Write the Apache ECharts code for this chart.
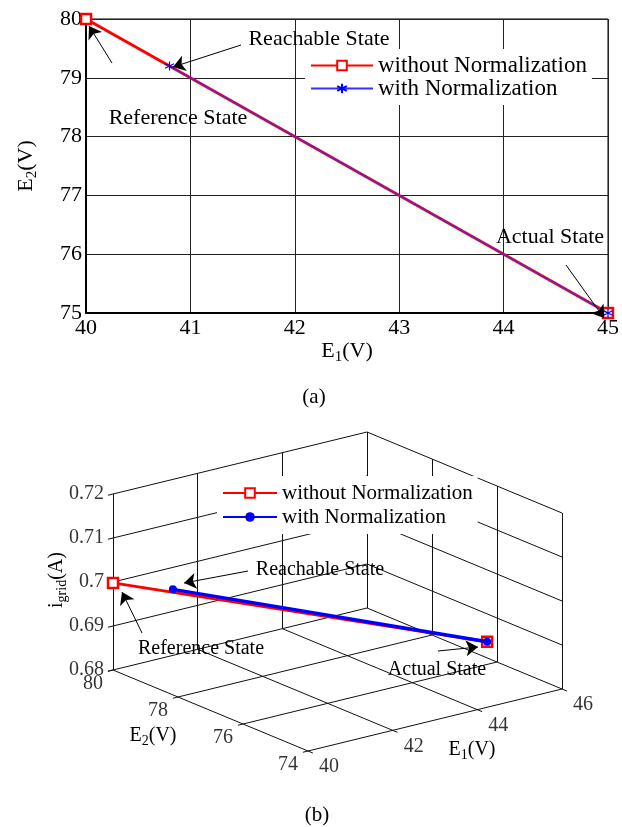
<!DOCTYPE html>
<html>
<head>
<meta charset="utf-8">
<script src="https://cdn.jsdelivr.net/npm/echarts@6/dist/echarts.min.js"></script>
<style>
  html, body { margin: 0; padding: 0; background: #fff; }
  #chart { width: 622px; height: 827px; }
</style>
</head>
<body>
<div id="chart"></div>
<script>
// (a) trajectory in the E1-E2 plane
const e1WithoutA = [40, 45];
const e2WithoutA = [80, 75];
const e1WithA = [40.8, 45];
const e2WithA = [79.2, 75];

// (b) trajectory in E1-E2-igrid space
const e1WithoutB = [40, 45];
const e2WithoutB = [80, 75];
const iWithoutB = [0.6998, 0.6900];
const e1WithB = [40.8, 45];
const e2WithB = [79.2, 75];
const iWithB = [0.6989, 0.6900];

const e1TicksB = [40, 42, 44, 46];
const e2TicksB = [74, 76, 78, 80];
const iTicksB = [0.68, 0.69, 0.70, 0.71, 0.72];

const FONT = '"Liberation Serif", "Times New Roman", serif';

// simple orthographic view of the 3d box, mapped onto a hidden full-page grid
const E1MIN = e1TicksB[0], E1MAX = e1TicksB[e1TicksB.length - 1];
const E2MIN = e2TicksB[0], E2MAX = e2TicksB[e2TicksB.length - 1];
const IMIN = iTicksB[0], IMAX = iTicksB[iTicksB.length - 1];
const ORIGIN = [113, 670];   // corner E1=40, E2=80, i=0.68
const VE1 = [254, -62];      // E1 40 -> 46
const VE2 = [195, 81];       // E2 80 -> 74
const VZ = [0, -176];        // i 0.68 -> 0.72

function proj(e1, e2, z) {
  const a = (e1 - E1MIN) / (E1MAX - E1MIN);
  const b = (E2MAX - e2) / (E2MAX - E2MIN);
  const c = (z - IMIN) / (IMAX - IMIN);
  return [ORIGIN[0] + a * VE1[0] + b * VE2[0] + c * VZ[0],
          ORIGIN[1] + a * VE1[1] + b * VE2[1] + c * VZ[1]];
}

// box edges and grid lines
const boxSegs = [];
function seg(p, q) { boxSegs.push({ coords: [proj(p[0], p[1], p[2]), proj(q[0], q[1], q[2])] }); }
seg([E1MIN, E2MAX, IMIN], [E1MIN, E2MAX, IMAX]);
seg([E1MAX, E2MAX, IMIN], [E1MAX, E2MAX, IMAX]);
seg([E1MAX, E2MIN, IMIN], [E1MAX, E2MIN, IMAX]);
seg([E1MIN, E2MAX, IMAX], [E1MAX, E2MAX, IMAX]);
seg([E1MAX, E2MAX, IMAX], [E1MAX, E2MIN, IMAX]);
seg([E1MIN, E2MAX, IMIN], [E1MIN, E2MIN, IMIN]);
seg([E1MIN, E2MIN, IMIN], [E1MAX, E2MIN, IMIN]);
seg([E1MIN, E2MAX, IMIN], [E1MAX, E2MAX, IMIN]);
seg([E1MAX, E2MAX, IMIN], [E1MAX, E2MIN, IMIN]);
e1TicksB.slice(1, -1).forEach(e1 => {
  seg([e1, E2MAX, IMIN], [e1, E2MIN, IMIN]);
  seg([e1, E2MAX, IMIN], [e1, E2MAX, IMAX]);
});
e2TicksB.slice(1, -1).forEach(e2 => {
  seg([E1MIN, e2, IMIN], [E1MAX, e2, IMIN]);
  seg([E1MAX, e2, IMIN], [E1MAX, e2, IMAX]);
});
iTicksB.slice(1, -1).forEach(z => {
  seg([E1MIN, E2MAX, z], [E1MAX, E2MAX, z]);
  seg([E1MAX, E2MAX, z], [E1MAX, E2MIN, z]);
});
// tick stubs
iTicksB.forEach(z => seg([E1MIN, E2MAX, z], [E1MIN - 0.12, E2MAX, z]));
e2TicksB.forEach(e2 => seg([E1MIN, e2, IMIN], [E1MIN - 0.12, e2, IMIN]));
e1TicksB.forEach(e1 => seg([e1, E2MIN, IMIN], [e1, E2MIN - 0.15, IMIN]));

function zip2(xs, ys) { return xs.map((x, k) => [x, ys[k]]); }
function zip3(xs, ys, zs) { return xs.map((x, k) => proj(x, ys[k], zs[k])); }

// annotation arrows, page pixels
const arrowsPx = [
  [[112, 63], [89, 26]],
  [[241, 45], [173, 67]],
  [[566, 265], [604, 318]],
  [[248, 571], [184, 583]],
  [[142, 633], [122, 592]],
  [[438, 651], [478, 647]]
];

const subRich = function(fs, pad) {
  return { sub: { fontSize: fs, fontFamily: FONT, color: '#000', padding: [pad, 0, 0, 0] } };
};

function txt(text, x, y, size, extra) {
  return Object.assign({
    type: 'text', x: x, y: y, z: 10, silent: true,
    style: { text: text, fontFamily: FONT, fontSize: size, fill: '#000', align: 'center', verticalAlign: 'middle' }
  }, extra || {});
}

const chart = echarts.init(document.getElementById('chart'));
const option = {
  animation: false,
  backgroundColor: '#fff',
  grid: [
    { left: 86, top: 19, width: 524, height: 294, show: true, borderColor: '#000', borderWidth: 1, backgroundColor: '#fff' },
    { left: 0, top: 0, width: 622, height: 827, show: false }
  ],
  xAxis: [
    {
      gridIndex: 0, type: 'value', min: 40, max: 45, interval: 1,
      name: 'E{sub|1}(V)', nameLocation: 'middle', nameGap: 24,
      nameTextStyle: { fontFamily: FONT, fontSize: 22, color: '#000', rich: subRich(15, 12) },
      axisLine: { show: true, lineStyle: { color: '#000', width: 2 } },
      axisTick: { show: false },
      splitLine: { show: true, lineStyle: { color: '#222', width: 1 } },
      axisLabel: { fontFamily: FONT, fontSize: 22, color: '#000', margin: 4 }
    },
    { gridIndex: 1, type: 'value', min: 0, max: 622, show: false }
  ],
  yAxis: [
    {
      gridIndex: 0, type: 'value', min: 75, max: 80, interval: 1,
      name: 'E{sub|2}(V)', nameLocation: 'middle', nameGap: 46, nameRotate: 90,
      nameTextStyle: { fontFamily: FONT, fontSize: 22, color: '#000', rich: subRich(15, 12) },
      axisLine: { show: true, lineStyle: { color: '#000', width: 2 } },
      axisTick: { show: false },
      splitLine: { show: true, lineStyle: { color: '#222', width: 1 } },
      axisLabel: { fontFamily: FONT, fontSize: 22, color: '#000', margin: 4 }
    },
    { gridIndex: 1, type: 'value', min: 0, max: 827, inverse: true, show: false }
  ],
  legend: [
    {
      data: ['without Normalization', 'with Normalization'],
      orient: 'vertical', left: 305, top: 49, padding: 5, itemGap: 0,
      itemWidth: 62, itemHeight: 12, backgroundColor: '#fff',
      textStyle: { fontFamily: FONT, fontSize: 23, color: '#000', lineHeight: 22 }
    },
    {
      data: ['without Normalization (b)', 'with Normalization (b)'],
      formatter: name => name.replace(' (b)', ''),
      orient: 'vertical', left: 217, top: 476, padding: 5, itemGap: 0,
      itemWidth: 54, itemHeight: 12, backgroundColor: '#fff',
      textStyle: { fontFamily: FONT, fontSize: 21, color: '#000', lineHeight: 24 }
    }
  ],
  graphic: [
    txt('Reachable State', 319, 39, 22),
    txt('Reference State', 178, 118, 22),
    txt('Actual State', 550, 237, 22),
    txt('(a)', 314, 397, 21),
    txt('Reachable State', 320, 570, 20),
    txt('Reference State', 201, 649, 20),
    txt('Actual State', 437, 670, 20),
    txt('(b)', 317, 815, 21),
    { type: 'text', x: 153, y: 736, z: 10, silent: true,
      style: { text: 'E{sub|2}(V)', rich: subRich(14, 11), fontFamily: FONT, fontSize: 20, fill: '#000', align: 'center', verticalAlign: 'middle' } },
    { type: 'text', x: 472, y: 750, z: 10, silent: true,
      style: { text: 'E{sub|1}(V)', rich: subRich(14, 11), fontFamily: FONT, fontSize: 20, fill: '#000', align: 'center', verticalAlign: 'middle' } },
    { type: 'text', x: 57, y: 580, z: 10, silent: true, rotation: Math.PI / 2,
      style: { text: 'i{sub|grid}(A)', rich: subRich(14, 11), fontFamily: FONT, fontSize: 20, fill: '#000', align: 'center', verticalAlign: 'middle' } }
  ],
  series: [
    {
      type: 'lines', coordinateSystem: 'cartesian2d', xAxisIndex: 1, yAxisIndex: 1,
      silent: true, z: 1,
      lineStyle: { color: '#111', width: 1, opacity: 1 },
      data: boxSegs
    },
    {
      type: 'scatter', xAxisIndex: 1, yAxisIndex: 1, silent: true, symbolSize: 1,
      itemStyle: { color: 'transparent' },
      label: { show: true, position: 'inside', align: 'right', verticalAlign: 'middle', offset: [-9, 0],
        fontFamily: FONT, fontSize: 20, color: '#000', formatter: p => p.value[2] },
      data: iTicksB.map(z => proj(E1MIN, E2MAX, z).concat(String(z)))
    },
    {
      type: 'scatter', xAxisIndex: 1, yAxisIndex: 1, silent: true, symbolSize: 1,
      itemStyle: { color: 'transparent' },
      label: { show: true, position: 'inside', align: 'center', verticalAlign: 'middle', offset: [-20, 14],
        fontFamily: FONT, fontSize: 20, color: '#000', formatter: p => p.value[2] },
      data: e2TicksB.map(e2 => proj(E1MIN, e2, IMIN).concat(String(e2)))
    },
    {
      type: 'scatter', xAxisIndex: 1, yAxisIndex: 1, silent: true, symbolSize: 1,
      itemStyle: { color: 'transparent' },
      label: { show: true, position: 'inside', align: 'center', verticalAlign: 'middle', offset: [21, 16],
        fontFamily: FONT, fontSize: 20, color: '#000', formatter: p => p.value[2] },
      data: e1TicksB.map(e1 => proj(e1, E2MIN, IMIN).concat(String(e1)))
    },
    {
      name: 'without Normalization', type: 'line', xAxisIndex: 0, yAxisIndex: 0,
      data: zip2(e1WithoutA, e2WithoutA),
      symbol: 'rect', symbolSize: 10, showAllSymbol: true,
      lineStyle: { color: '#ff0000', width: 3 },
      itemStyle: { color: '#fff', borderColor: '#ff0000', borderWidth: 2.5 },
      z: 3
    },
    {
      name: 'with Normalization', type: 'line', xAxisIndex: 0, yAxisIndex: 0,
      data: zip2(e1WithA, e2WithA),
      symbol: 'path://M5,0L5,10M0.67,2.5L9.33,7.5M0.67,7.5L9.33,2.5', symbolSize: 9, showAllSymbol: true,
      lineStyle: { color: '#3030ff', width: 1.2 },
      itemStyle: { color: '#0000ff', borderColor: '#0000ff', borderWidth: 1.2 },
      z: 4
    },
    {
      name: 'without Normalization (b)', type: 'line', xAxisIndex: 1, yAxisIndex: 1,
      data: zip3(e1WithoutB, e2WithoutB, iWithoutB),
      symbol: 'rect', symbolSize: 10, showAllSymbol: true,
      lineStyle: { color: '#ff0000', width: 3 },
      itemStyle: { color: '#fff', borderColor: '#ff0000', borderWidth: 2.5 },
      z: 3
    },
    {
      name: 'with Normalization (b)', type: 'line', xAxisIndex: 1, yAxisIndex: 1,
      data: zip3(e1WithB, e2WithB, iWithB),
      symbol: 'circle', symbolSize: 8, showAllSymbol: true,
      lineStyle: { color: '#0000ff', width: 3.5 },
      itemStyle: { color: '#0000ff', borderColor: '#0000ff', borderWidth: 0 },
      z: 4
    },
    {
      type: 'lines', coordinateSystem: 'cartesian2d', xAxisIndex: 1, yAxisIndex: 1,
      silent: true, z: 6,
      symbol: ['none', 'arrow'], symbolSize: [8, 12],
      lineStyle: { color: '#000', width: 1, opacity: 1 },
      data: arrowsPx.map(a => ({ coords: a }))
    }
  ]
};
chart.setOption(option);
</script>
</body>
</html>
